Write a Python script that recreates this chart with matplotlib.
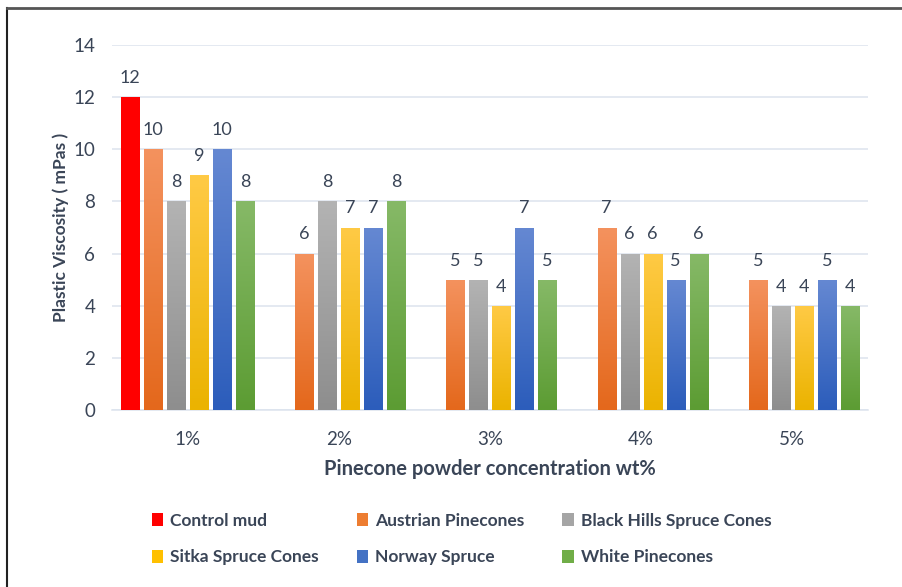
import matplotlib
matplotlib.use("Agg")
import matplotlib.pyplot as plt
import numpy as np
from matplotlib.colors import LinearSegmentedColormap
from matplotlib.lines import Line2D
from matplotlib.patches import Patch

categories = ["1%", "2%", "3%", "4%", "5%"]
series = ["Control mud", "Austrian Pinecones", "Black Hills Spruce Cones",
          "Sitka Spruce Cones", "Norway Spruce", "White Pinecones"]
control = [12, None, None, None, None]
austrian = [10, 6, 5, 7, 5]
black_hills = [8, 8, 5, 6, 4]
sitka = [9, 7, 4, 6, 4]
norway = [10, 7, 7, 5, 5]
white = [8, 8, 5, 6, 4]
values = [control, austrian, black_hills, sitka, norway, white]

solid = ["#FF0000", "#ED7D31", "#A5A5A5", "#FFC000", "#4472C4", "#70AD47"]
# top / bottom shades for the gradient fill
grad = [("#FF0000", "#FF0000"), ("#F4925E", "#E4681C"), ("#B3B3B3", "#8E8E8E"),
        ("#FFCA45", "#EBB300"), ("#6588D2", "#2C5DBB"), ("#86B967", "#5C9C33")]

txt = "#3A4557"
plt.rcParams['font.family'] = ['Lato', 'DejaVu Sans']

fig = plt.figure(figsize=(9.03, 5.87), dpi=100)
ax = fig.add_axes([112 / 903, 1 - 410 / 587, 756 / 903, 365 / 587])

x = np.arange(len(categories))
slot = 0.152
bw = 0.12
for i, (name, vals) in enumerate(zip(series, values)):
    off = (i - 2.5) * slot
    xs = [xx + off for xx, v in zip(x, vals) if v is not None]
    vs = [v for v in vals if v is not None]
    bars = ax.bar(xs, vs, width=bw, color=solid[i], edgecolor="none", zorder=2)
    cmap = LinearSegmentedColormap.from_list("g%d" % i, [grad[i][1], grad[i][0]])
    for b, v in zip(bars, vs):
        g = np.linspace(0, 1, 100).reshape(-1, 1)
        im = ax.imshow(g, cmap=cmap, origin="lower", aspect="auto", zorder=3,
                       extent=[b.get_x(), b.get_x() + b.get_width(), 0, v])
        im.set_clip_path(b)
        ax.annotate(str(v), (b.get_x() + b.get_width() / 2, v), xytext=(0, 8),
                    textcoords="offset points", ha="center", va="bottom",
                    fontsize=13, color=txt)

ax.set_xlim(-0.5, len(categories) - 0.5)
ax.set_ylim(0, 14)
ax.set_yticks(range(0, 15, 2))
ax.set_xticks(x)
ax.set_xticklabels(categories)
ax.grid(axis="y", color="#DCE3EE", linewidth=1.1, zorder=0)
ax.set_axisbelow(True)
for s in ["top", "right", "left"]:
    ax.spines[s].set_visible(False)
ax.spines["bottom"].set_color("#DCE3EE")
ax.spines["bottom"].set_linewidth(1.1)
ax.tick_params(length=0, colors=txt, labelsize=13.5)
ax.tick_params(axis="y", pad=12)
ax.tick_params(axis="x", pad=15)
ax.set_xlabel("Pinecone powder concentration wt%", fontsize=14.5, fontweight="bold",
              color=txt, labelpad=8)
ax.set_ylabel("Plastic Viscosity ( mPas )", fontsize=12.5, fontweight="bold",
              color=txt, labelpad=3)

handles = [Patch(facecolor=c) for c in solid]
order = [0, 3, 1, 4, 2, 5]
leg = fig.legend([handles[k] for k in order], [series[k] for k in order],
                 ncol=3, loc="upper left", bbox_to_anchor=(136 / 903, 1 - 497 / 587),
                 frameon=False, handlelength=0.65, handleheight=0.75, handletextpad=0.4,
                 columnspacing=2.2, labelspacing=1.2,
                 prop={"size": 12.5, "weight": "bold"})
for t in leg.get_texts():
    t.set_color(txt)

fig.add_artist(Line2D([7 / 903, 7 / 903], [0, 1 - 8 / 587], color="#222222", lw=1.5))
fig.add_artist(Line2D([7 / 903, 1], [1 - 8 / 587, 1 - 8 / 587], color="#555555", lw=2))

fig.savefig("out.png", dpi=100)
